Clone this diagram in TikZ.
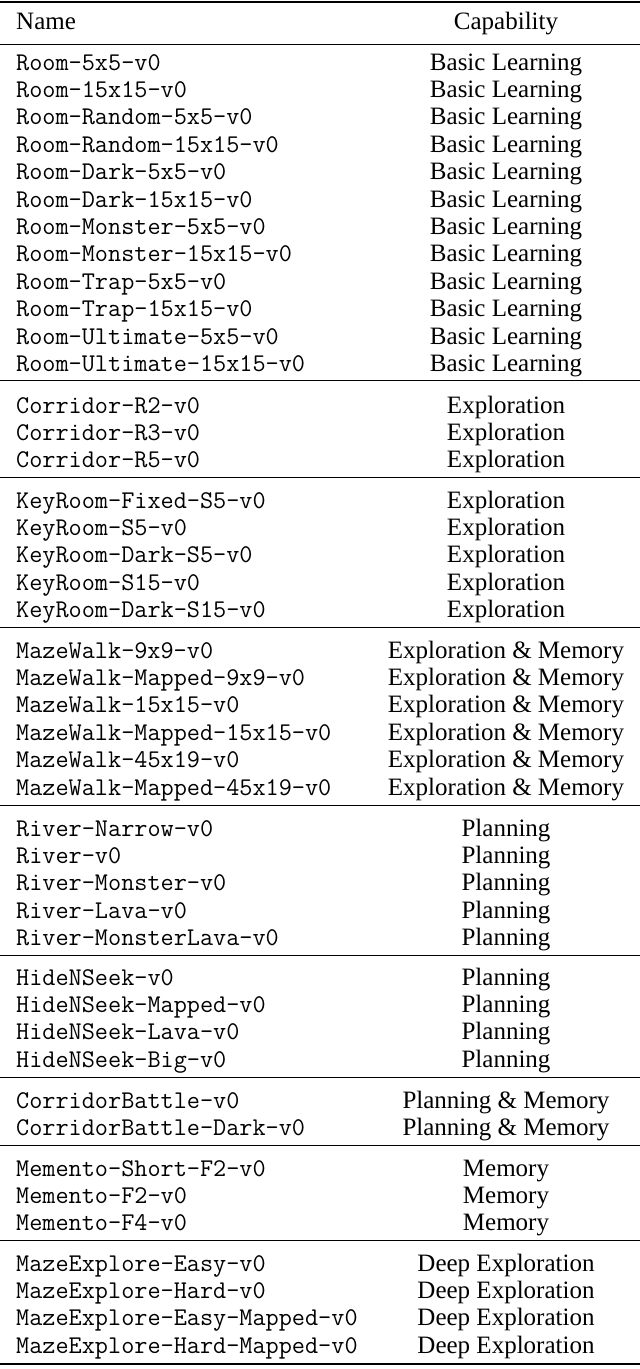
\documentclass[tikz,border=0pt]{standalone}
\usepackage{fontspec}
\setmainfont{Liberation Serif}
\begin{document}
\begin{tikzpicture}[x=1pt,y=-1pt,
  nm/.style={anchor=base west,inner sep=0pt,font=\fontsize{25.5}{26}\ttfamily},
  cp/.style={anchor=base,inner sep=0pt,font=\fontsize{25}{26}\selectfont},
  hd/.style={inner sep=0pt,font=\fontsize{25}{26}\selectfont},
  thick rule/.style={line width=2pt},
  thin rule/.style={line width=1pt}]
\useasboundingbox (0,0) rectangle (640,1369);
\draw[thick rule] (0,2) -- (640,2);
\node[hd,anchor=base west] (hname) at (16,29) {Name};
\node[hd,anchor=base] (hcap) at (506,29) {Capability};
\foreach \y in {44,380,477,627,805,955,1077,1145,1240} \draw[thin rule] (0,\y) -- (640,\y);
\draw[thick rule] (0,1364) -- (640,1364);
\foreach \n/\c/\y [count=\i] in {
Room-5x5-v0/Basic Learning/62,
Room-15x15-v0/Basic Learning/89.4,
Room-Random-5x5-v0/Basic Learning/116.8,
Room-Random-15x15-v0/Basic Learning/144.2,
Room-Dark-5x5-v0/Basic Learning/171.6,
Room-Dark-15x15-v0/Basic Learning/199,
Room-Monster-5x5-v0/Basic Learning/226.4,
Room-Monster-15x15-v0/Basic Learning/253.8,
Room-Trap-5x5-v0/Basic Learning/281.2,
Room-Trap-15x15-v0/Basic Learning/308.6,
Room-Ultimate-5x5-v0/Basic Learning/336,
Room-Ultimate-15x15-v0/Basic Learning/363.4,
Corridor-R2-v0/Exploration/405,
Corridor-R3-v0/Exploration/432,
Corridor-R5-v0/Exploration/459,
KeyRoom-Fixed-S5-v0/Exploration/500,
KeyRoom-S5-v0/Exploration/527,
KeyRoom-Dark-S5-v0/Exploration/554.5,
KeyRoom-S15-v0/Exploration/582,
KeyRoom-Dark-S15-v0/Exploration/609,
MazeWalk-9x9-v0/Exploration \& Memory/650,
MazeWalk-Mapped-9x9-v0/Exploration \& Memory/677.4,
MazeWalk-15x15-v0/Exploration \& Memory/704.8,
MazeWalk-Mapped-15x15-v0/Exploration \& Memory/732.2,
MazeWalk-45x19-v0/Exploration \& Memory/759.6,
MazeWalk-Mapped-45x19-v0/Exploration \& Memory/787,
River-Narrow-v0/Planning/828,
River-v0/Planning/855.4,
River-Monster-v0/Planning/882.8,
River-Lava-v0/Planning/910.2,
River-MonsterLava-v0/Planning/937.6,
HideNSeek-v0/Planning/977,
HideNSeek-Mapped-v0/Planning/1004.4,
HideNSeek-Lava-v0/Planning/1031.8,
HideNSeek-Big-v0/Planning/1059.2,
CorridorBattle-v0/Planning \& Memory/1100,
CorridorBattle-Dark-v0/Planning \& Memory/1127.4,
Memento-Short-F2-v0/Memory/1168,
Memento-F2-v0/Memory/1195.4,
Memento-F4-v0/Memory/1222.8,
MazeExplore-Easy-v0/Deep Exploration/1263,
MazeExplore-Hard-v0/Deep Exploration/1290.4,
MazeExplore-Easy-Mapped-v0/Deep Exploration/1317.8,
MazeExplore-Hard-Mapped-v0/Deep Exploration/1345.2}{
  \node[nm] (n\i) at (16,\y+8) {\n};
  \node[cp] (c\i) at (506,\y+8) {\c};
}
\end{tikzpicture}
\end{document}
